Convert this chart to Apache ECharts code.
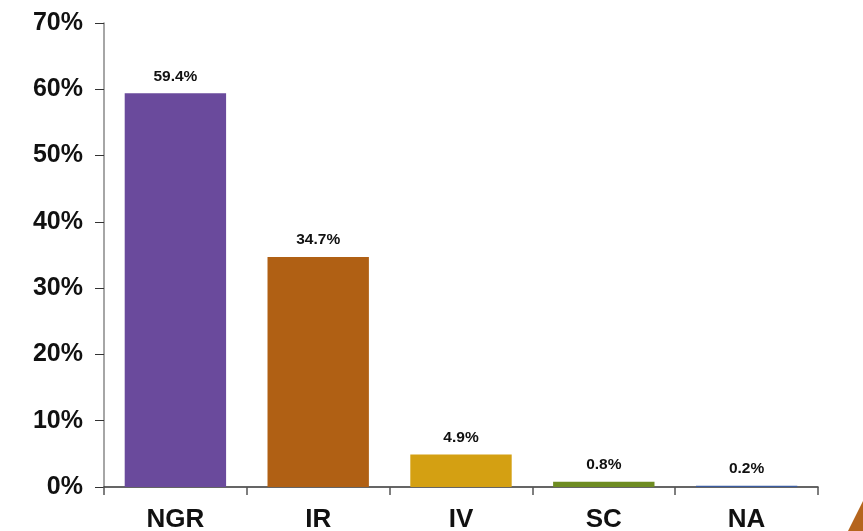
<!DOCTYPE html>
<html><head><meta charset="utf-8">
<script src="https://cdn.jsdelivr.net/npm/echarts@6/dist/echarts.min.js"></script>
<style>html,body{margin:0;padding:0;background:#fff}#c{width:863px;height:531px}</style>
</head><body><div id="c"></div>
<script>
const categories = ['NGR', 'IR', 'IV', 'SC', 'NA'];
const values = [59.4, 34.7, 4.9, 0.8, 0.2];
const colors = ['#6A4A9C', '#B06014', '#D4A012', '#6E8C22', '#3B5CA0'];
const yTicks = [0, 10, 20, 30, 40, 50, 60, 70];

const chart = echarts.init(document.getElementById('c'), null, {renderer: 'canvas'});
chart.setOption({
  animation: false,
  grid: {left: 104, right: 45, top: 23, bottom: 44, outerBoundsMode: 'none'},
  xAxis: {
    type: 'category', data: categories,
    axisLine: {lineStyle: {color: '#333', width: 1.5}},
    axisTick: {show: true, length: 8, lineStyle: {color: '#555', width: 1.5}},
    axisLabel: {color: '#111', fontFamily: 'Liberation Sans, Arial', fontWeight: 'bold', fontSize: 26, margin: 20}
  },
  yAxis: {
    type: 'value', min: yTicks[0], max: yTicks[yTicks.length - 1], interval: 10,
    axisLine: {show: true, lineStyle: {color: '#888', width: 1.5}},
    axisTick: {show: true, length: 9, lineStyle: {color: '#333', width: 1}},
    splitLine: {show: false},
    axisLabel: {color: '#111', fontFamily: 'Liberation Sans, Arial', fontWeight: 'bold', fontSize: 25, margin: 21,
      formatter: v => v + '%'}
  },
  series: [{
    type: 'bar', barCategoryGap: '29%',
    data: values.map((v, i) => ({value: v, itemStyle: {color: colors[i]}})),
    label: {show: true, position: 'top', distance: 9, color: '#111',
      fontFamily: 'Liberation Sans, Arial', fontWeight: 'bold', fontSize: 15.5,
      formatter: p => p.value.toFixed(1) + '%'}
  }],
  graphic: [{
    type: 'polygon', shape: {points: [[848, 531], [866, 495], [866, 531]]},
    style: {fill: '#B5651D'}
  }]
});
</script></body></html>
